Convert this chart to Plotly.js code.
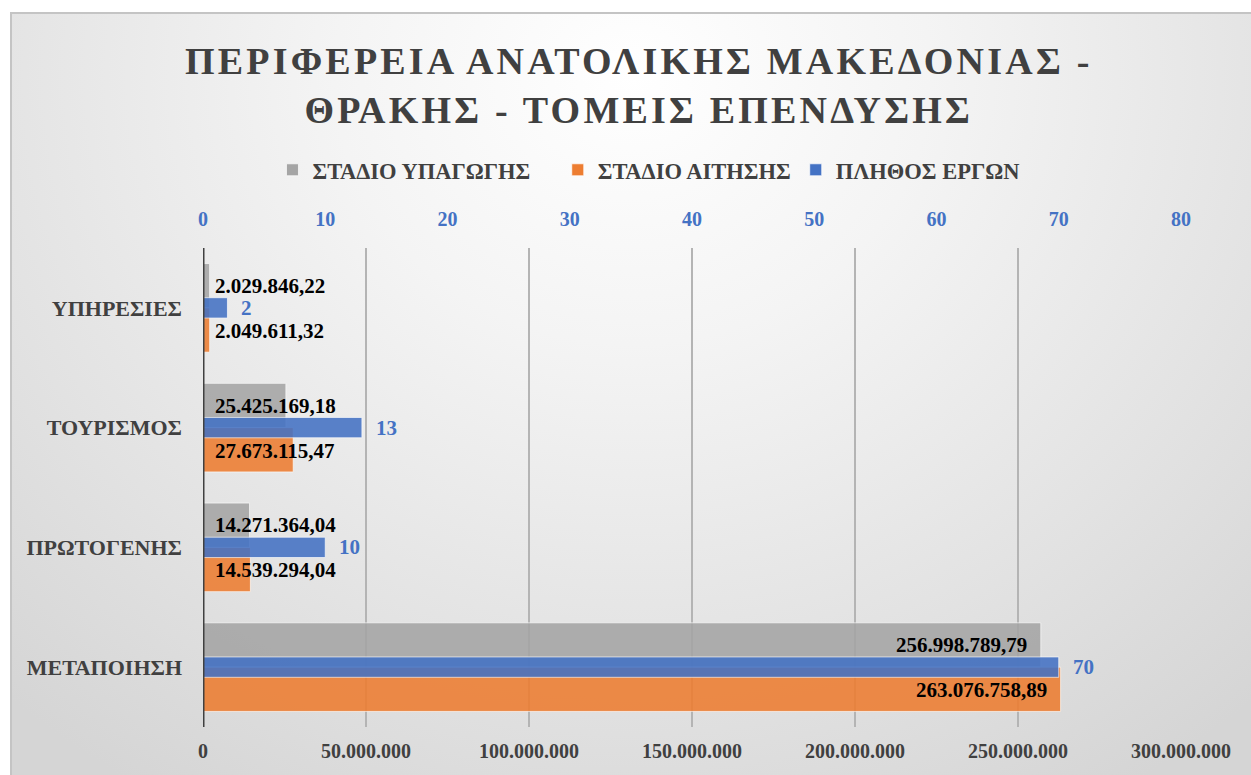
<!DOCTYPE html>
<html>
<head>
<meta charset="utf-8">
<script src="https://cdn.plot.ly/plotly-3.0.1.min.js"></script>
<style>
  html, body { margin: 0; padding: 0; background: #ffffff; }
  #wrap {
    position: absolute; left: 10px; top: 12px; width: 1241px; height: 763px;
    border-left: 2px solid #c4c4c4; border-top: 2px solid #c4c4c4;
    background: radial-gradient(ellipse 75% 110% at 50% 8%, #ffffff 0%, #f4f4f4 32%, #e2e2e2 72%, #d5d5d5 100%);
  }
  #chart { width: 1241px; height: 763px; }
  #chart .gtitle { letter-spacing: 3.2px; }
</style>
</head>
<body>
<div id="wrap"><div id="chart"></div></div>
<script>
// ---- data ----
const categories = ["ΜΕΤΑΠΟΙΗΣΗ", "ΠΡΩΤΟΓΕΝΗΣ", "ΤΟΥΡΙΣΜΟΣ", "ΥΠΗΡΕΣΙΕΣ"];
const stadioYpagogis = [256998789.79, 14271364.04, 25425169.18, 2029846.22];
const stadioAitisis = [263076758.89, 14539294.04, 27673115.47, 2049611.32];
const plithosErgon = [70, 10, 13, 2];
const seriesNames = ["ΣΤΑΔΙΟ ΥΠΑΓΩΓΗΣ", "ΣΤΑΔΙΟ ΑΙΤΗΣΗΣ", "ΠΛΗΘΟΣ ΕΡΓΩΝ"];
const bottomTicks = [0, 50000000, 100000000, 150000000, 200000000, 250000000, 300000000];
const topTicks = [0, 10, 20, 30, 40, 50, 60, 70, 80];

const FONT = "Liberation Serif, DejaVu Serif, serif";
const GRAY = "#a5a5a5", ORANGE = "#ed7d31", BLUE = "#4472c4";
const PAD = "\u00a0\u00a0\u00a0\u00a0";

function fmt(v) {
  const parts = v.toFixed(2).split(".");
  const intPart = parts[0].replace(/\B(?=(\d{3})+(?!\d))/g, ".");
  return intPart + "," + parts[1];
}

const traces = [
  {
    type: "bar", orientation: "h", name: seriesNames[0] + PAD,
    y: categories, x: stadioYpagogis,
    width: 0.37, offset: 0,
    marker: { color: GRAY, opacity: 0.88, line: { color: "rgba(255,255,255,0.7)", width: 1 } },
    xaxis: "x", yaxis: "y", hoverinfo: "x+name"
  },
  {
    type: "bar", orientation: "h", name: seriesNames[1],
    y: categories, x: stadioAitisis,
    width: 0.37, offset: -0.37,
    marker: { color: ORANGE, opacity: 0.88, line: { color: "rgba(255,255,255,0.7)", width: 1 } },
    xaxis: "x", yaxis: "y", hoverinfo: "x+name"
  },
  {
    type: "bar", orientation: "h", name: seriesNames[2],
    y: categories, x: plithosErgon,
    width: 0.17, offset: -0.085,
    marker: { color: BLUE, opacity: 0.88, line: { color: "rgba(255,255,255,0.7)", width: 1 } },
    xaxis: "x2", yaxis: "y2", hoverinfo: "x+name"
  }
];

const annotations = [];
const xMax = 300000000;
const plotPx = 978;
function addMoneyLabels(vals, shift) {
  vals.forEach((v, i) => {
    const px = v / xMax * plotPx;
    const inside = px > 200;
    annotations.push({
      xref: "x", yref: "y", x: inside ? v : 0, y: categories[i],
      xanchor: inside ? "right" : "left", yanchor: "middle",
      xshift: inside ? -12 : 10, yshift: shift,
      text: fmt(v), showarrow: false,
      font: { family: FONT, size: 21, color: "#000000", weight: "bold" }
    });
  });
}
addMoneyLabels(stadioYpagogis, 22);
addMoneyLabels(stadioAitisis, -23);
plithosErgon.forEach((v, i) => {
  annotations.push({
    xref: "x2", yref: "y", x: v, y: categories[i],
    xanchor: "left", yanchor: "middle", xshift: 12, yshift: 0,
    text: String(v), showarrow: false,
    font: { family: FONT, size: 21, color: BLUE, weight: "bold" }
  });
});

const layout = {
  width: 1241, height: 763,
  paper_bgcolor: "rgba(0,0,0,0)", plot_bgcolor: "rgba(0,0,0,0)",
  separators: ",.",
  margin: { l: 191, r: 72, t: 234, b: 50 },
  font: { family: FONT, color: "#404040" },
  title: {
    text: "<b>ΠΕΡΙΦΕΡΕΙΑ ΑΝΑΤΟΛΙΚΗΣ ΜΑΚΕΔΟΝΙΑΣ -<br>ΘΡΑΚΗΣ - ΤΟΜΕΙΣ ΕΠΕΝΔΥΣΗΣ</b>",
    font: { family: FONT, size: 38, color: "#404040" },
    x: 0.505, xanchor: "center", y: 0.922, yanchor: "top"
  },
  showlegend: true,
  legend: {
    orientation: "h", x: 0.456, xanchor: "center", y: 1.1625, yanchor: "middle",
    font: { family: FONT, size: 22.5, color: "#404040", weight: "bold" },
    bgcolor: "rgba(0,0,0,0)", traceorder: "normal"
  },
  xaxis: {
    range: [0, 300000000], tickvals: bottomTicks, tickformat: ",d",
    showgrid: true, gridcolor: "#b4b4b4", gridwidth: 2,
    zeroline: false, showline: false, ticks: "", ticklabelstandoff: 10,
    tickfont: { family: FONT, size: 20, color: "#404040", weight: "bold" },
    fixedrange: true
  },
  xaxis2: {
    range: [0, 80], tickvals: topTicks, overlaying: "x", side: "top",
    showgrid: false, zeroline: false, showline: false, ticks: "", ticklabelstandoff: 17,
    tickfont: { family: FONT, size: 20, color: BLUE, weight: "bold" },
    fixedrange: true
  },
  yaxis: {
    type: "category", categoryorder: "array", categoryarray: categories,
    range: [-0.5, 3.5], showgrid: false, zeroline: false, showline: false,
    ticks: "", ticklabelstandoff: 20,
    tickfont: { family: FONT, size: 22, color: "#404040", weight: "bold" },
    fixedrange: true
  },
  yaxis2: {
    type: "category", categoryorder: "array", categoryarray: categories,
    range: [-0.5, 3.5], overlaying: "y", showticklabels: false,
    showgrid: false, zeroline: false, showline: false, fixedrange: true
  },
  shapes: [{
    type: "line", xref: "x", yref: "paper", x0: 0, x1: 0, y0: 0, y1: 1,
    line: { color: "#404040", width: 3 }, layer: "above"
  }],
  annotations: annotations,
  bargap: 0.2
};

Plotly.newPlot("chart", traces, layout, { displayModeBar: false, staticPlot: true });
</script>
</body>
</html>
